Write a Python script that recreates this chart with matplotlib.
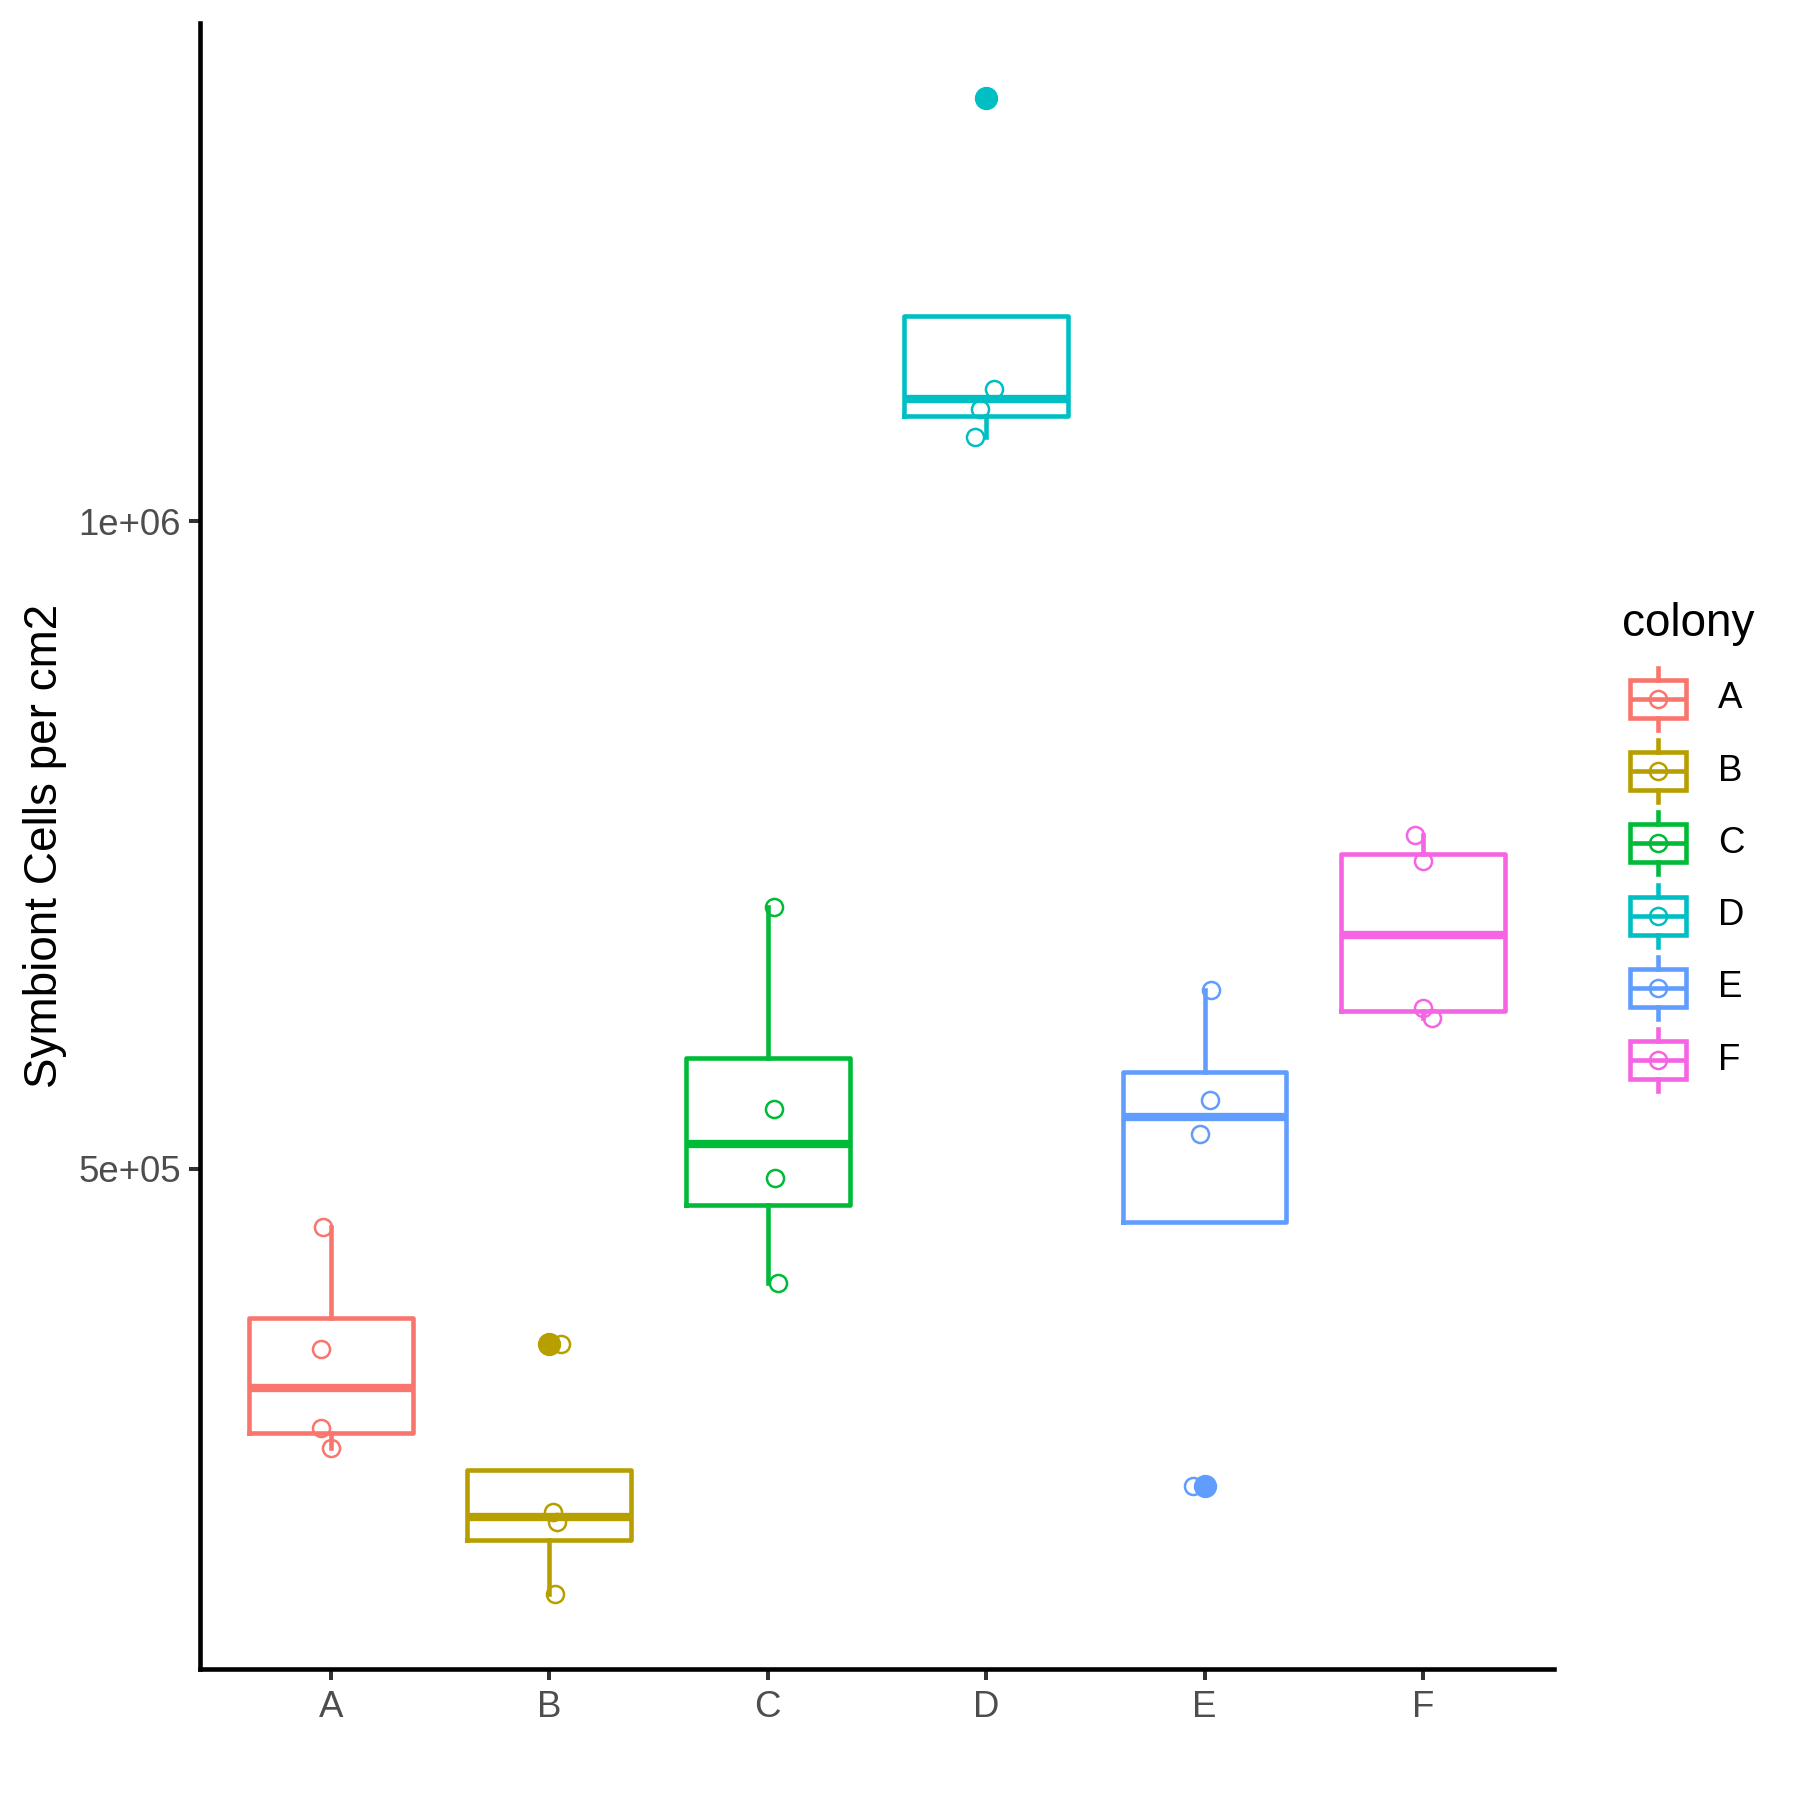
import numpy as np
import matplotlib.pyplot as plt
from matplotlib import cbook
from matplotlib.patches import Rectangle
from matplotlib.ticker import NullLocator

plt.rcParams['font.family'] = ['Liberation Sans', 'DejaVu Sans']

colonies = ['A', 'B', 'C', 'D', 'E', 'F']
colors = ['#F8766D', '#B79F00', '#00BA38', '#00BFC4', '#619CFF', '#F564E3']

# symbiont cells per cm2, four fragments per colony
cells_A = [469700, 412400, 378800, 370600]
cells_B = [414400, 346100, 342400, 317100]
cells_C = [661800, 533300, 494800, 442400]
cells_D = [1574400, 1152900, 1127500, 1094400]
cells_E = [605200, 538400, 519000, 355800]
cells_F = [715000, 695500, 593600, 587600]

# horizontal jitter of each point
jit_A = [-0.035, -0.044, -0.046, 0.002]
jit_B = [0.054, 0.016, 0.036, 0.027]
jit_C = [0.029, 0.027, 0.031, 0.045]
jit_D = [0.0, 0.036, -0.027, -0.049]
jit_E = [0.030, 0.026, -0.021, -0.054]
jit_F = [-0.037, 0.0, 0.0, 0.041]

cells = [cells_A, cells_B, cells_C, cells_D, cells_E, cells_F]
jits = [jit_A, jit_B, jit_C, jit_D, jit_E, jit_F]

# box stats on the log scale (like ggplot with a log10 y scale)
stats = []
for vals in cells:
    s = cbook.boxplot_stats(np.log10(vals), whis=1.5)[0]
    for k in ['mean', 'med', 'q1', 'q3', 'whislo', 'whishi', 'cilo', 'cihi']:
        s[k] = 10 ** s[k]
    s['fliers'] = 10 ** np.asarray(s['fliers'])
    stats.append(s)

box_lw = 1.1
pt_ms, pt_mew = 4.1, 0.6
fig, ax = plt.subplots(figsize=(6, 6), dpi=300)
fig.subplots_adjust(left=0.1111, right=0.8633, bottom=0.0729, top=0.9873)
ax.set_yscale('log')

for i, (vals, jit, c) in enumerate(zip(cells, jits, colors)):
    pos = i + 1
    ax.bxp([stats[i]], positions=[pos], widths=0.75, showcaps=False,
           boxprops=dict(color=c, lw=box_lw),
           whiskerprops=dict(color=c, lw=box_lw),
           medianprops=dict(color=c, lw=2.0, solid_capstyle='butt'),
           flierprops=dict(marker='o', markerfacecolor=c, markeredgecolor=c,
                           markersize=4.6, linestyle='none'),
           manage_ticks=False, zorder=2)
    ax.plot(pos + np.array(jit), vals, ls='none', marker='o', mfc='none',
            mec=c, ms=pt_ms, mew=pt_mew, zorder=3)

# limits: 5% expansion of the log range, 0.6 on the discrete axis
lo, hi = np.log10(min(map(min, cells))), np.log10(max(map(max, cells)))
pad = 0.05 * (hi - lo)
ax.set_ylim(10 ** (lo - pad), 10 ** (hi + pad))
ax.set_xlim(0.4, 6.6)

ax.set_yticks([5e5, 1e6])
ax.set_yticklabels(['5e+05', '1e+06'])
ax.yaxis.set_minor_locator(NullLocator())
ax.set_xticks(range(1, 7))
ax.set_xticklabels(colonies)

for side in ['top', 'right']:
    ax.spines[side].set_visible(False)
for side in ['left', 'bottom']:
    ax.spines[side].set_linewidth(1.1)
    ax.spines[side].set_color('black')
ax.tick_params(length=2.64, width=0.96, color='#333333', labelcolor='#4D4D4D',
               labelsize=8.8)
ax.tick_params(axis='x', pad=2.4)
ax.tick_params(axis='y', pad=2)
ax.set_ylabel('Symbiont Cells per cm2', fontsize=11, color='black', labelpad=2.6)

# legend drawn by hand in pixel coords (boxplot key glyphs)
lax = fig.add_axes([0, 0, 1, 1])
lax.set_xlim(0, 1800)
lax.set_ylim(1800, 0)
lax.axis('off')
lax.text(1622, 636, 'colony', fontsize=11, ha='left', va='baseline')
kx, kw, kh = 1630, 56, 38
for i, (name, c) in enumerate(zip(colonies, colors)):
    cy = 699 + 72.2 * i
    cx = kx + kw / 2
    lax.add_patch(Rectangle((kx, cy - kh / 2), kw, kh, fill=False, ec=c, lw=box_lw))
    lax.plot([kx, kx + kw], [cy, cy], color=c, lw=box_lw, solid_capstyle='butt')
    lax.plot([cx, cx], [cy - kh / 2 - 12, cy - kh / 2], color=c, lw=box_lw)
    lax.plot([cx, cx], [cy + kh / 2, cy + kh / 2 + 12], color=c, lw=box_lw)
    lax.plot(cx, cy, marker='o', mfc='none', mec=c, ms=pt_ms, mew=pt_mew)
    lax.text(1718, cy, name, fontsize=8.8, ha='left', va='center')

fig.savefig('out.png', dpi=300, facecolor='white')
